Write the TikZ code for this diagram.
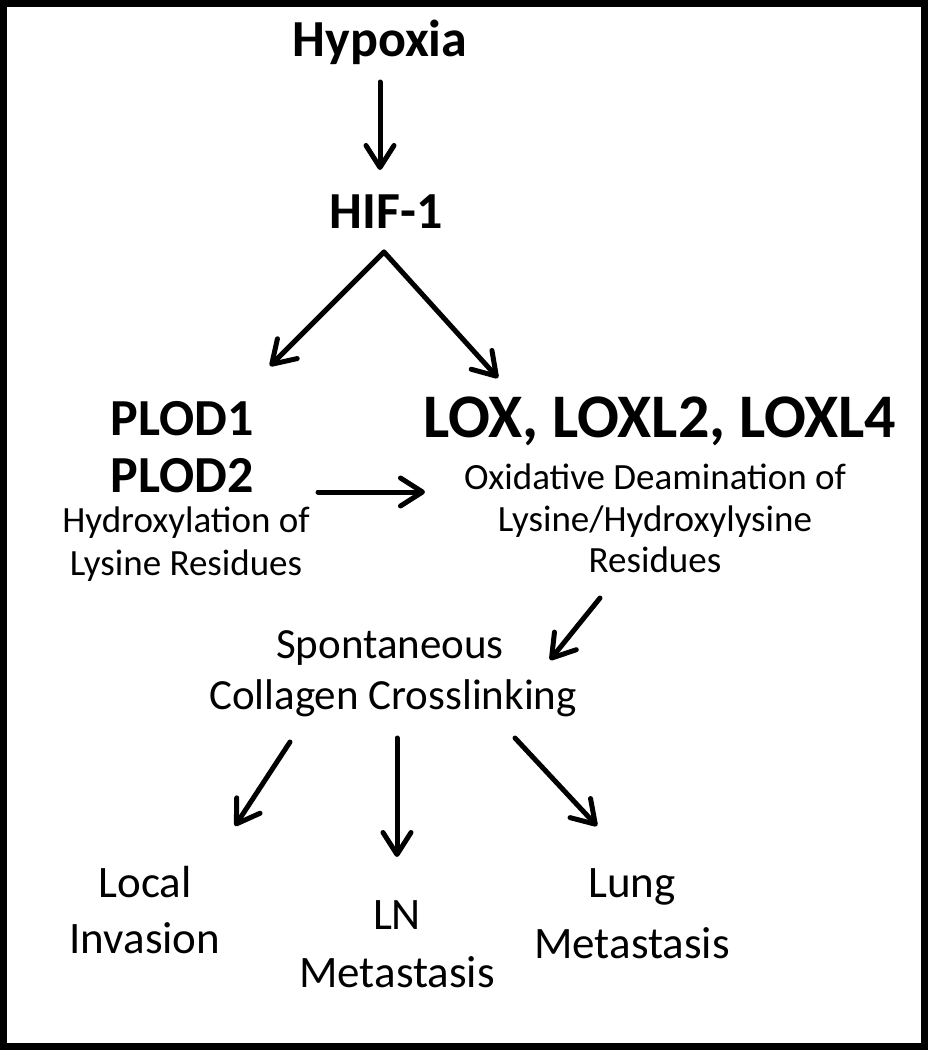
\documentclass[tikz,border=0pt]{standalone}
\usepackage{fontspec}
\setmainfont{Carlito}
\usetikzlibrary{arrows.meta}
\begin{document}
\begin{tikzpicture}[x=1pt,y=-1pt,
  toptxt/.style={font=\bfseries\fontsize{52}{56}\selectfont, inner sep=0pt},
  hugetxt/.style={font=\bfseries\fontsize{62}{66}\selectfont, inner sep=0pt},
  medtxt/.style={font=\fontsize{43}{47}\selectfont, inner sep=0pt},
  outtxt/.style={font=\fontsize{45}{49}\selectfont, inner sep=0pt},
  smltxt/.style={font=\fontsize{37}{41}\selectfont, inner sep=0pt, anchor=base},
  arr/.style={line width=5pt, line cap=round,
    -{Straight Barb[length=22pt,width=28pt,line cap=round,line join=round]}}]
\useasboundingbox (0,0) rectangle (928,1050);
\draw[line width=7pt] (3.5,3.5) rectangle (924.5,1046.5);
\node[toptxt] (hyp) at (380,42) {Hypoxia};
\node[toptxt] (hif) at (386,212) {HIF-1};
\node[toptxt] (plod1) at (182,419) {PLOD1};
\node[toptxt] (plod2) at (182,476) {PLOD2};
\node[smltxt] (hyd1) at (186,532) {Hydroxylation of};
\node[smltxt] (hyd2) at (186,575) {Lysine Residues};
\node[hugetxt] (lox) at (660,421) {LOX, LOXL2, LOXL4};
\node[smltxt] (ox1) at (655,489) {Oxidative Deamination of};
\node[smltxt] (ox2) at (655,531) {Lysine/Hydroxylysine};
\node[smltxt] (ox3) at (655,572) {Residues};
\node[medtxt] (sp1) at (390,648) {Spontaneous};
\node[medtxt] (sp2) at (393,698) {Collagen Crosslinking};
\node[outtxt] (loc1) at (145,882) {Local};
\node[outtxt] (loc2) at (145,938) {Invasion};
\node[outtxt] (ln1) at (397,915) {LN};
\node[outtxt] (ln2) at (397,972) {Metastasis};
\node[outtxt] (lu1) at (632,887) {Lung};
\node[outtxt] (lu2) at (632,943) {Metastasis};
\coordinate (apex) at (384,252);
\draw[arr] (380,82) -- (380,170);
\draw[arr] (apex) -- (270,366);
\draw[arr] (apex) -- (498,378);
\draw[arr] (318,492) -- (425,492);
\draw[arr] (600,598) -- (550,660);
\draw[arr] (290,742) -- (235,826);
\draw[arr] (397,738) -- (397,857);
\draw[arr] (515,738) -- (597,826);
\end{tikzpicture}
\end{document}
